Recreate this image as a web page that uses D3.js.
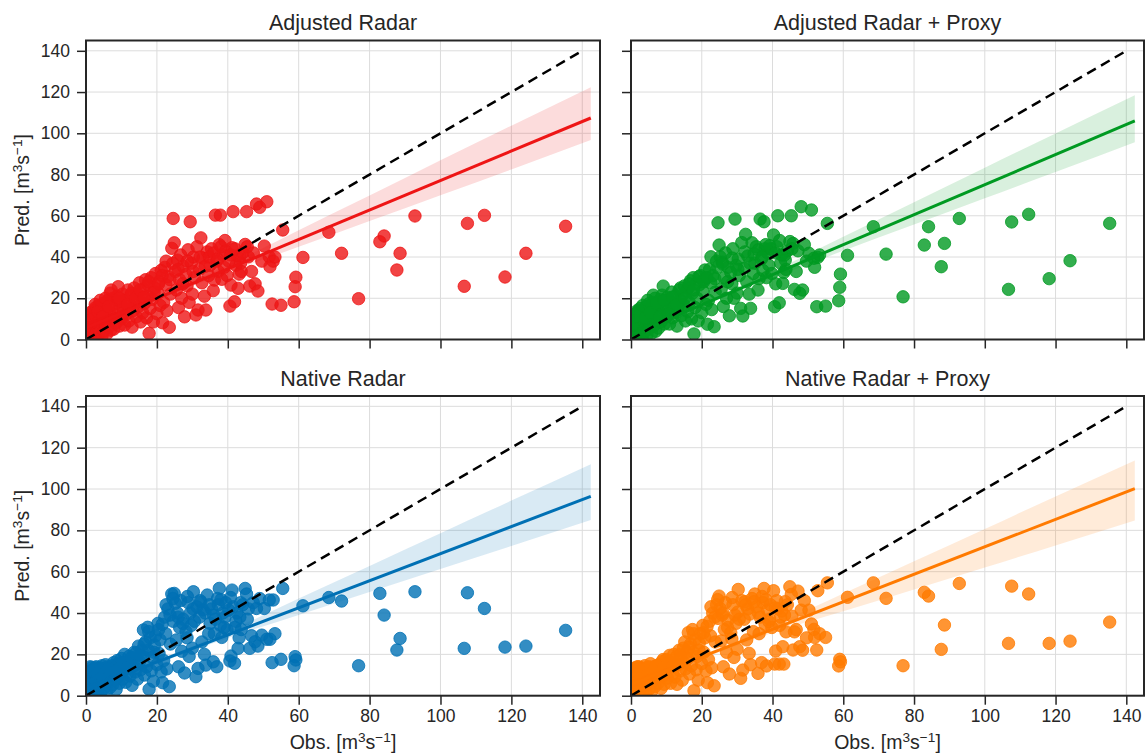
<!DOCTYPE html>
<html>
<head>
<meta charset="utf-8">
<script src="https://cdn.jsdelivr.net/npm/d3@7"></script>
<style>
  body { margin: 0; background: #fff; }
  svg { display: block; font-family: "Liberation Sans", Arial, Helvetica, sans-serif; }
</style>
</head>
<body>
<svg id="chart" width="1145" height="756"></svg>
<script>
// Observed discharge (shared by all four model runs), m3/s
const obs = [
  0.2, 0.4, 0.6, 0.8, 1.0, 1.1, 1.3, 1.5, 1.7, 1.9,
  2.0, 2.2, 2.4, 2.5, 2.7, 2.9, 3.0, 3.2, 3.4, 3.6,
  3.7, 3.9, 4.1, 4.3, 4.5, 4.6, 4.8, 5.0, 5.2, 5.4,
  5.6, 5.8, 6.0, 6.2, 6.4, 6.6, 6.8, 7.0, 7.2, 7.4,
  7.6, 7.8, 8.0, 8.3, 8.5, 8.8, 9.0, 9.1, 9.4, 9.7,
  10.0, 10.3, 10.6, 10.9, 11.2, 11.5, 11.8, 12.1, 12.4, 12.7,
  13.0, 13.3, 13.6, 13.9, 14.2, 14.5, 14.8, 15.1, 15.4, 15.7,
  16.0, 16.2, 16.5, 16.8, 17.1, 17.4, 17.6, 17.8, 18.1, 18.4,
  18.7, 19.0, 19.3, 19.6, 20.0, 20.3, 20.6, 20.9, 21.2, 21.6,
  21.9, 22.2, 22.5, 22.8, 23.1, 23.5, 23.8, 24.2, 24.6, 24.9,
  25.2, 25.5, 25.8, 26.1, 26.4, 26.7, 27.0, 27.4, 27.8, 28.2,
  28.5, 28.8, 29.1, 29.4, 29.7, 30.0, 30.3, 30.6, 31.0, 31.3,
  31.6, 32.0, 32.4, 32.7, 33.0, 33.4, 33.8, 34.2, 34.6, 35.0,
  35.4, 35.9, 36.2, 36.5, 36.9, 37.3, 37.6, 37.9, 38.3, 38.6,
  39.0, 39.4, 39.8, 40.3, 40.6, 40.9, 41.2, 41.5, 41.9, 42.3,
  42.6, 42.9, 43.2, 43.4, 43.8, 44.2, 44.9, 45.3, 45.8, 46.2,
  46.7, 47.2, 47.7, 48.1, 48.5, 49.0, 49.6, 50.3, 51.0, 51.7,
  51.9, 52.5, 52.8, 53.3, 55.0, 55.5, 58.7, 59.0, 59.2, 61.2,
  68.5, 72.1, 76.9, 82.9, 84.1, 87.7, 88.6, 92.8, 106.7, 107.6, 112.4, 118.2, 124.1, 135.3,
  0.5, 1.2, 1.8, 2.6, 3.3, 4.0, 4.7, 5.5, 6.3, 7.1,
  8.1, 9.3, 10.5, 11.7, 12.9, 14.0, 15.2, 16.4, 17.7, 19.2,
  20.5, 21.5, 22.6, 23.7, 24.5, 26.0, 27.3, 28.6, 30.2, 32.2,
  33.6, 34.8, 36.0, 37.1, 38.1, 39.2, 40.8, 42.0, 43.6, 45.5
];

// Predicted discharge, Adjusted Radar
const predAdjusted = [
  1.5, 4.0, 9.0, 2.5, 6.5, 11.0, 3.0, 7.5, 12.5, 5.0,
  14.0, 8.5, 2.0, 10.5, 15.5, 5.5, 12.0, 0.8, 8.0, 16.5,
  3.5, 11.5, 6.5, 14.5, 1.5, 9.5, 17.5, 4.0, 12.5, 7.5,
  15.0, 2.5, 10.5, 19.0, 6.0, 13.0, 22.5, 4.5, 16.5, 9.5,
  20.0, 5.0, 12.0, 17.5, 8.0, 21.0, 14.0, 25.6, 6.5, 18.5,
  10.0, 22.0, 15.5, 7.0, 19.0, 12.5, 24.0, 9.0, 17.0, 21.5,
  6.0, 14.0, 25.0, 18.5, 11.0, 22.0, 16.0, 27.5, 8.5, 20.5,
  13.0, 24.5, 17.5, 29.0, 10.5, 21.0, 26.5, 3.0, 15.0, 30.0,
  19.5, 8.5, 25.0, 32.0, 12.5, 22.5, 28.0, 16.5, 33.5, 8.1,
  18.0, 35.0, 26.5, 14.0, 30.5, 5.9, 22.0, 44.2, 58.7, 46.9,
  33.0, 24.0, 38.5, 15.5, 29.0, 41.0, 20.0, 35.5, 11.0, 31.5,
  26.0, 43.5, 18.0, 57.1, 37.0, 22.0, 40.0, 30.0, 11.9, 45.0,
  14.3, 34.0, 49.3, 27.5, 39.5, 21.0, 14.3, 42.5, 31.0, 36.0,
  44.0, 23.7, 28.8, 60.3, 38.0, 33.0, 46.0, 60.3, 29.2, 41.0,
  35.0, 43.0, 31.0, 38.0, 16.2, 26.4, 44.5, 62.0, 18.3, 36.0,
  40.5, 24.8, 31.7, 40.5, 33.0, 42.0, 46.1, 62.0, 40.1, 25.9,
  33.0, 42.0, 27.0, 65.7, 23.5, 64.1, 38.0, 45.3, 66.8, 40.1,
  35.3, 17.2, 38.0, 40.0, 16.6, 53.1, 18.3, 25.6, 30.2, 39.8,
  52.0, 41.8, 19.8, 47.4, 50.2, 33.7, 41.8, 59.9, 25.8, 56.3, 60.2, 30.3, 41.8, 54.9,
  8.0, 13.0, 10.0, 17.0, 13.5, 19.0, 11.0, 20.0, 16.0, 24.0,
  10.0, 20.0, 13.0, 17.0, 22.5, 20.0, 24.0, 20.5, 28.0, 23.0,
  27.0, 31.0, 38.0, 29.0, 37.0, 34.0, 27.0, 38.0, 33.0, 40.0,
  35.5, 40.0, 42.0, 39.0, 45.0, 48.0, 41.0, 44.0, 37.0, 45.0
];

// Predicted discharge, Adjusted Radar + Proxy
const predAdjustedProxy = [
  2.0, 5.5, 8.0, 1.5, 10.0, 4.0, 12.5, 6.5, 3.0, 11.5,
  13.5, 7.0, 2.5, 15.0, 9.0, 4.5, 11.0, 1.0, 14.5, 7.5,
  3.5, 12.0, 6.0, 16.0, 2.0, 9.5, 13.5, 5.0, 17.5, 8.0,
  14.0, 3.0, 11.0, 18.0, 6.5, 15.5, 20.0, 4.0, 12.5, 9.0,
  17.0, 5.5, 13.0, 19.5, 8.5, 21.5, 15.0, 25.9, 7.5, 16.5,
  11.0, 20.5, 14.5, 7.5, 18.0, 23.0, 10.5, 16.0, 21.0, 13.0,
  6.5, 15.5, 24.0, 19.0, 11.5, 21.5, 17.0, 26.0, 9.0, 23.5,
  13.5, 25.0, 18.0, 28.5, 10.0, 22.5, 30.0, 2.7, 15.5, 27.0,
  20.0, 9.0, 26.5, 31.0, 13.0, 23.5, 29.0, 33.7, 17.0, 7.4,
  19.0, 34.0, 27.5, 14.5, 31.0, 6.2, 23.0, 38.0, 56.6, 45.8,
  40.1, 24.5, 37.5, 16.0, 30.0, 42.0, 20.0, 35.0, 11.5, 32.5,
  27.0, 44.0, 20.0, 58.4, 36.0, 22.5, 39.0, 31.0, 15.1, 47.0,
  11.4, 34.5, 51.0, 28.0, 40.5, 22.0, 15.1, 46.9, 32.0, 37.0,
  45.0, 24.0, 29.5, 58.4, 39.0, 33.5, 57.1, 44.0, 30.0, 42.0,
  36.0, 44.0, 32.0, 50.7, 15.9, 27.0, 45.0, 60.0, 17.8, 37.0,
  41.0, 27.2, 32.5, 41.0, 34.0, 43.0, 47.5, 60.0, 46.6, 24.3,
  33.0, 43.0, 22.4, 64.4, 24.0, 46.0, 38.0, 41.8, 62.8, 39.4,
  35.0, 15.9, 39.8, 41.0, 16.2, 56.3, 18.8, 25.3, 31.7, 40.8,
  54.7, 41.4, 20.7, 45.8, 54.7, 35.3, 46.6, 58.7, 24.3, 57.0, 60.7, 29.5, 38.2, 56.3,
  7.0, 11.0, 14.0, 12.0, 16.5, 10.5, 19.0, 13.0, 21.5, 17.5,
  11.0, 19.0, 12.5, 20.5, 17.0, 25.0, 20.0, 27.0, 24.0, 30.5,
  28.0, 30.0, 40.1, 29.5, 35.0, 36.5, 28.0, 39.5, 34.0, 42.5,
  37.0, 41.5, 43.5, 40.0, 46.0, 45.5, 42.0, 48.0, 38.5, 44.0
];

// Predicted discharge, Native Radar
const predNative = [
  1.0, 5.0, 9.5, 3.0, 12.0, 7.0, 2.0, 13.5, 10.5, 5.5,
  8.5, 13.0, 1.5, 11.0, 4.0, 14.0, 7.5, 12.5, 2.5, 9.5,
  5.5, 13.5, 1.0, 10.0, 14.5, 6.5, 12.0, 3.5, 13.0, 8.5,
  11.5, 2.0, 14.0, 6.0, 10.0, 13.5, 4.0, 12.0, 8.0, 14.5,
  5.5, 16.0, 10.0, 13.0, 3.0, 17.0, 9.0, 15.5, 6.0, 12.0,
  18.0, 8.0, 13.5, 20.0, 6.5, 15.5, 11.0, 19.0, 9.5, 17.0,
  5.0, 14.5, 21.0, 11.5, 18.0, 8.0, 24.0, 16.5, 12.5, 22.0,
  19.0, 31.8, 10.0, 26.0, 14.0, 33.1, 22.0, 3.1, 28.0, 12.0,
  18.5, 7.0, 24.5, 29.0, 15.0, 35.0, 20.5, 27.0, 11.5, 6.3,
  17.0, 38.0, 30.0, 13.0, 42.0, 4.4, 25.0, 49.2, 36.0, 49.5,
  44.7, 27.0, 40.0, 14.0, 33.0, 46.0, 21.5, 37.0, 11.0, 31.0,
  28.0, 45.0, 19.0, 40.0, 34.0, 23.0, 50.3, 36.0, 9.2, 43.0,
  13.2, 38.0, 45.4, 26.0, 41.5, 20.0, 14.8, 48.7, 30.0, 35.0,
  42.0, 16.4, 30.0, 37.0, 14.0, 44.0, 51.9, 34.0, 28.2, 40.0,
  33.0, 45.0, 31.8, 41.4, 16.8, 19.2, 51.1, 43.0, 15.7, 36.0,
  40.0, 22.9, 28.0, 38.0, 32.0, 44.0, 51.9, 49.2, 42.0, 22.9,
  29.0, 45.0, 26.1, 42.2, 24.0, 47.0, 29.3, 42.2, 27.3, 46.3,
  27.3, 16.0, 46.3, 30.0, 17.6, 51.9, 14.5, 18.9, 17.3, 43.5,
  47.5, 45.8, 14.5, 49.5, 39.0, 22.1, 27.7, 50.3, 22.9, 49.8, 42.2, 23.5, 24.0, 31.6,
  11.5, 14.0, 12.0, 13.5, 11.0, 12.5, 9.0, 15.0, 13.0, 11.0,
  8.0, 13.0, 16.0, 13.5, 18.5, 20.5, 19.5, 25.0, 31.0, 21.0,
  32.0, 34.5, 44.0, 39.0, 47.0, 38.0, 35.0, 48.0, 42.0, 46.0,
  40.0, 44.0, 39.0, 47.0, 46.5, 38.0, 47.5, 33.0, 45.0, 37.0
];

// Predicted discharge, Native Radar + Proxy
const predNativeProxy = [
  2.0, 6.5, 10.5, 1.5, 13.0, 8.0, 3.5, 12.0, 5.0, 11.0,
  8.0, 14.0, 2.5, 11.5, 4.5, 13.5, 7.0, 12.5, 1.0, 10.0,
  6.0, 14.5, 1.5, 9.0, 13.5, 5.5, 11.5, 3.0, 14.0, 8.0,
  12.0, 2.0, 13.5, 7.0, 10.5, 14.0, 4.5, 12.5, 8.5, 13.0,
  6.0, 15.0, 11.0, 13.5, 3.5, 16.5, 9.5, 17.5, 5.5, 12.5,
  17.5, 8.5, 14.0, 19.5, 6.0, 16.0, 10.5, 20.0, 9.0, 15.0,
  5.5, 15.0, 22.0, 12.0, 18.5, 7.5, 23.0, 16.0, 13.0, 21.0,
  18.0, 30.5, 10.5, 25.0, 14.5, 32.0, 21.0, 2.4, 27.0, 12.5,
  19.0, 7.5, 25.5, 30.0, 15.5, 34.0, 21.0, 28.0, 12.0, 6.3,
  17.5, 36.0, 29.0, 13.5, 40.0, 4.8, 26.0, 44.0, 37.4, 48.2,
  42.2, 26.5, 39.0, 14.0, 32.0, 45.0, 21.0, 36.5, 10.5, 30.5,
  27.5, 44.0, 18.5, 39.0, 35.0, 22.5, 51.4, 37.0, 8.4, 46.0,
  12.4, 37.0, 44.0, 27.0, 42.0, 20.5, 15.0, 47.0, 31.0, 49.2,
  43.0, 10.8, 30.0, 38.0, 16.0, 45.0, 51.9, 34.5, 14.4, 41.4,
  35.8, 44.0, 33.0, 50.8, 15.3, 21.6, 46.0, 42.0, 15.3, 38.0,
  41.0, 23.7, 15.3, 39.0, 30.9, 44.0, 52.7, 49.0, 22.1, 30.9,
  32.0, 50.6, 23.7, 41.4, 22.0, 46.0, 28.0, 41.4, 34.7, 32.1,
  28.2, 22.1, 50.8, 30.0, 28.2, 54.6, 14.4, 17.6, 16.4, 47.6,
  54.6, 47.1, 14.5, 50.0, 48.2, 22.4, 34.2, 54.3, 25.3, 53.0, 49.2, 25.3, 26.4, 35.6,
  12.0, 13.5, 14.0, 9.5, 12.0, 13.0, 10.0, 15.5, 11.5, 14.5,
  9.0, 13.5, 16.5, 14.0, 19.0, 20.0, 26.0, 23.5, 30.0, 22.0,
  30.5, 33.5, 43.0, 38.0, 46.5, 40.0, 33.0, 47.5, 40.5, 45.5,
  39.5, 45.5, 40.0, 48.0, 46.5, 37.0, 42.5, 34.0, 45.5, 38.5
];

const panelTitles = ["Adjusted Radar", "Adjusted Radar + Proxy", "Native Radar", "Native Radar + Proxy"];
const axisTicks = [0, 20, 40, 60, 80, 100, 120, 140];
const axisMax = 145;
const oneToOne = [0, 140];

// Linear fits (pred = intercept + slope * obs) and their confidence bands
const fitIntercept = [5.6, 2.3, 3.2, 5.5];
const fitSlope = [0.715, 0.728, 0.655, 0.665];
const fitRange = [0, 142.4];
const bandX = [0, 20, 40, 60, 80, 100, 120, 142.4];
const bandUpper = [
  [2.5, 1.0, 1.8, 4.5, 7.0, 9.8, 12.3, 14.9],
  [2.0, 0.9, 1.6, 3.8, 6.0, 8.2, 10.3, 12.5],
  [1.8, 0.9, 1.8, 4.5, 7.2, 9.9, 12.6, 15.5],
  [1.8, 0.9, 1.7, 4.0, 6.3, 8.7, 11.1, 13.6]
];
const bandLower = [
  [2.0, 1.0, 1.6, 3.5, 5.3, 7.1, 8.9, 10.7],
  [1.8, 0.9, 1.5, 3.0, 4.8, 6.6, 8.4, 10.3],
  [1.6, 0.9, 1.5, 3.5, 5.4, 7.4, 9.4, 11.5],
  [1.8, 0.9, 1.8, 4.6, 7.3, 10.0, 12.6, 15.4]
];

const predSeries = [predAdjusted, predAdjustedProxy, predNative, predNativeProxy];
const seriesColors = ["#ee1515", "#009a22", "#0070b4", "#ff7a00"];

const svg = d3.select("#chart");
const ink = "#262626";

const boxes = [
  { left: 86,  right: 600,  top: 40.5, bottom: 339.5, xLabels: false, yLabels: true },
  { left: 631, right: 1144, top: 40.5, bottom: 339.5, xLabels: false, yLabels: false },
  { left: 86,  right: 600,  top: 396,  bottom: 695.7, xLabels: true,  yLabels: true },
  { left: 631, right: 1144, top: 396,  bottom: 695.7, xLabels: true,  yLabels: false }
];

function unitLabel(sel, prefix) {
  sel.append("tspan").text(prefix + " [m");
  sel.append("tspan").attr("dy", -7).attr("font-size", "0.7em").text("3");
  sel.append("tspan").attr("dy", 7).text("s");
  sel.append("tspan").attr("dy", -7).attr("font-size", "0.7em").text("\u22121");
  sel.append("tspan").attr("dy", 7).text("]");
}

boxes.forEach((b, i) => {
  const x = d3.scaleLinear().domain([0, axisMax]).range([b.left, b.right]);
  const y = d3.scaleLinear().domain([0, axisMax]).range([b.bottom, b.top]);
  const g = svg.append("g");
  const color = seriesColors[i];

  const clipId = "clip" + i;
  svg.append("clipPath").attr("id", clipId)
    .append("rect").attr("x", b.left).attr("y", b.top)
    .attr("width", b.right - b.left).attr("height", b.bottom - b.top);

  // grid
  const grid = g.append("g").attr("stroke", "#dcdcdc").attr("stroke-width", 1);
  axisTicks.forEach(t => {
    grid.append("line").attr("x1", x(t)).attr("x2", x(t)).attr("y1", b.top).attr("y2", b.bottom);
    grid.append("line").attr("x1", b.left).attr("x2", b.right).attr("y1", y(t)).attr("y2", y(t));
  });

  const plot = g.append("g").attr("clip-path", `url(#${clipId})`);

  // scatter
  const pts = obs.map((o, k) => [o, predSeries[i][k]]);
  plot.append("g").selectAll("circle").data(pts).join("circle")
    .attr("cx", d => x(d[0])).attr("cy", d => y(d[1])).attr("r", 6.2)
    .attr("fill", color).attr("fill-opacity", 0.8)
    .attr("stroke", color).attr("stroke-opacity", 0.8).attr("stroke-width", 1);

  // confidence band
  const fit = v => fitIntercept[i] + fitSlope[i] * v;
  const band = bandX.map((v, k) => ({ v, lo: fit(v) - bandLower[i][k], hi: fit(v) + bandUpper[i][k] }));
  plot.append("path").datum(band)
    .attr("d", d3.area().x(d => x(d.v)).y0(d => y(d.lo)).y1(d => y(d.hi)).curve(d3.curveMonotoneX))
    .attr("fill", color).attr("fill-opacity", 0.15);

  // regression line
  plot.append("line")
    .attr("x1", x(fitRange[0])).attr("y1", y(fit(fitRange[0])))
    .attr("x2", x(fitRange[1])).attr("y2", y(fit(fitRange[1])))
    .attr("stroke", color).attr("stroke-width", 3);

  // 1:1 line
  plot.append("line")
    .attr("x1", x(oneToOne[0])).attr("y1", y(oneToOne[0]))
    .attr("x2", x(oneToOne[1])).attr("y2", y(oneToOne[1]))
    .attr("stroke", "#000").attr("stroke-width", 2.5).attr("stroke-dasharray", "10,6");

  // frame
  g.append("rect").attr("x", b.left).attr("y", b.top)
    .attr("width", b.right - b.left).attr("height", b.bottom - b.top)
    .attr("fill", "none").attr("stroke", ink).attr("stroke-width", 2);

  // ticks
  const xAxis = d3.axisBottom(x).tickValues(axisTicks).tickSize(9).tickPadding(5)
    .tickFormat(b.xLabels ? d3.format("d") : () => "");
  const yAxis = d3.axisLeft(y).tickValues(axisTicks).tickSize(9).tickPadding(7)
    .tickFormat(b.yLabels ? d3.format("d") : () => "");
  const gx = g.append("g").attr("transform", `translate(0,${b.bottom})`).call(xAxis);
  const gy = g.append("g").attr("transform", `translate(${b.left},0)`).call(yAxis);
  [gx, gy].forEach(a => {
    a.select(".domain").remove();
    a.selectAll(".tick line").attr("stroke", ink).attr("stroke-width", 1.5);
    a.selectAll(".tick text").attr("fill", ink).attr("font-size", 17.5)
      .attr("font-family", "Liberation Sans, Arial, sans-serif");
  });

  // title
  g.append("text").attr("x", (b.left + b.right) / 2).attr("y", b.top - 10.5)
    .attr("text-anchor", "middle").attr("font-size", 21.5).attr("fill", ink)
    .text(panelTitles[i]);

  if (b.yLabels) {
    const t = g.append("text")
      .attr("transform", `translate(29,${(b.top + b.bottom) / 2}) rotate(-90)`)
      .attr("text-anchor", "middle").attr("font-size", 19.5).attr("fill", ink);
    unitLabel(t, "Pred.");
  }
  if (b.xLabels) {
    const t = g.append("text")
      .attr("x", (b.left + b.right) / 2).attr("y", 749)
      .attr("text-anchor", "middle").attr("font-size", 19.5).attr("fill", ink);
    unitLabel(t, "Obs.");
  }
});
</script>
</body>
</html>
